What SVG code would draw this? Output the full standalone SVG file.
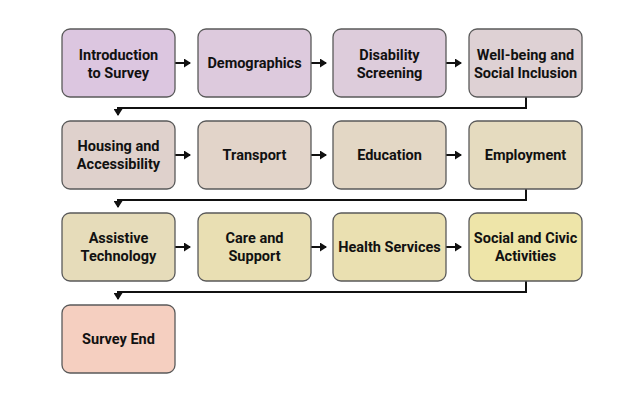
<svg xmlns="http://www.w3.org/2000/svg" width="644" height="403" viewBox="0 0 644 403">
<defs>
<style>
.box{stroke:#5a5a5a;stroke-width:1.3}
.t{font-family:Roboto,"Liberation Sans",sans-serif;font-weight:bold;font-size:14.5px;fill:#111;text-anchor:middle}
.c{fill:none;stroke:#111;stroke-width:2}
</style>
<marker id="ah" markerWidth="9" markerHeight="9" refX="6" refY="4.5" orient="auto" markerUnits="userSpaceOnUse">
<path d="M0,0 L7,4.5 L0,9 Z" fill="#111"/>
</marker>
</defs>
<rect width="644" height="403" fill="#fff"/>
<g id="connectors">
<path class="c" d="M175,63 H190" marker-end="url(#ah)"/>
<path class="c" d="M311,63 H326" marker-end="url(#ah)"/>
<path class="c" d="M446,63 H461" marker-end="url(#ah)"/>
<path class="c" d="M526,97 V108 H118 V115" marker-end="url(#ah)"/>
<path class="c" d="M175,155 H190" marker-end="url(#ah)"/>
<path class="c" d="M311,155 H326" marker-end="url(#ah)"/>
<path class="c" d="M446,155 H461" marker-end="url(#ah)"/>
<path class="c" d="M526,189 V200 H118 V207" marker-end="url(#ah)"/>
<path class="c" d="M175,247 H190" marker-end="url(#ah)"/>
<path class="c" d="M311,247 H326" marker-end="url(#ah)"/>
<path class="c" d="M446,247 H461" marker-end="url(#ah)"/>
<path class="c" d="M526,281 V292 H118 V299" marker-end="url(#ah)"/>
</g>
<g id="n1"><rect class="box" x="62" y="29" width="113" height="68" rx="8" fill="#DCC6E0"/><text class="t" x="118.5" y="60">Introduction</text><text class="t" x="118.5" y="78">to Survey</text></g>
<g id="n2"><rect class="box" x="198" y="29" width="113" height="68" rx="8" fill="#DDCADD"/><text class="t" x="254.5" y="68">Demographics</text></g>
<g id="n3"><rect class="box" x="333" y="29" width="113" height="68" rx="8" fill="#DDCCDB"/><text class="t" x="389.5" y="60">Disability</text><text class="t" x="389.5" y="78">Screening</text></g>
<g id="n4"><rect class="box" x="469" y="29" width="113" height="68" rx="8" fill="#DED1D4"/><text class="t" x="525.5" y="60">Well-being and</text><text class="t" x="525.5" y="78">Social Inclusion</text></g>
<g id="n5"><rect class="box" x="62" y="121" width="113" height="68" rx="8" fill="#DFD1CC"/><text class="t" x="118.5" y="151">Housing and</text><text class="t" x="118.5" y="169">Accessibility</text></g>
<g id="n6"><rect class="box" x="198" y="121" width="113" height="68" rx="8" fill="#E2D4C9"/><text class="t" x="254.5" y="160">Transport</text></g>
<g id="n7"><rect class="box" x="333" y="121" width="113" height="68" rx="8" fill="#E3D7C5"/><text class="t" x="389.5" y="160">Education</text></g>
<g id="n8"><rect class="box" x="469" y="121" width="113" height="68" rx="8" fill="#E5DBBF"/><text class="t" x="525.5" y="160">Employment</text></g>
<g id="n9"><rect class="box" x="62" y="213" width="113" height="68" rx="8" fill="#E6DCBA"/><text class="t" x="118.5" y="243">Assistive</text><text class="t" x="118.5" y="261">Technology</text></g>
<g id="n10"><rect class="box" x="198" y="213" width="113" height="68" rx="8" fill="#E9DFB3"/><text class="t" x="254.5" y="243">Care and</text><text class="t" x="254.5" y="261">Support</text></g>
<g id="n11"><rect class="box" x="333" y="213" width="113" height="68" rx="8" fill="#EAE0B1"/><text class="t" x="389.5" y="252">Health Services</text></g>
<g id="n12"><rect class="box" x="469" y="213" width="113" height="68" rx="8" fill="#EEE5A9"/><text class="t" x="525.5" y="243">Social and Civic</text><text class="t" x="525.5" y="261">Activities</text></g>
<g id="n13"><rect class="box" x="62" y="305" width="113" height="68" rx="8" fill="#F5CFC0"/><text class="t" x="118.5" y="344">Survey End</text></g>
</svg>
